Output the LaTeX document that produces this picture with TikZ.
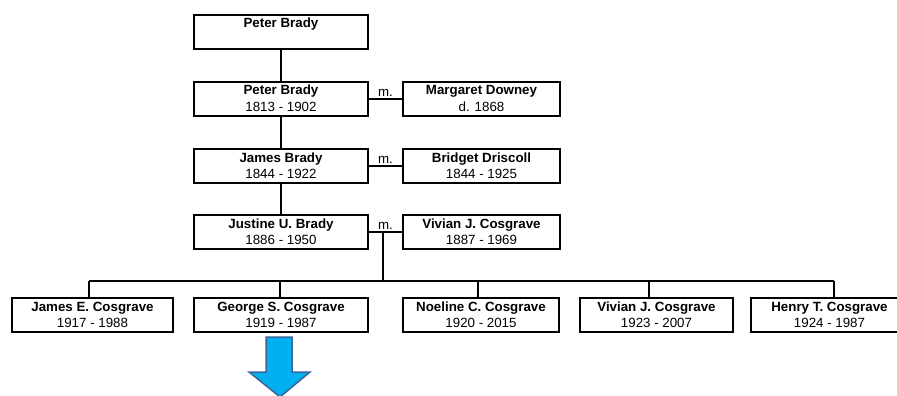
\documentclass[tikz,border=0pt]{standalone}
\usepackage{fontspec}
\setmainfont{Liberation Sans}
\usetikzlibrary{calc}
\definecolor{arrowfill}{HTML}{00B0F0}
\definecolor{arrowline}{HTML}{3A6699}
\newcommand\personbox[6]{%
  \node[box, minimum width=#3-#2, minimum height=34, anchor=north west] (#1) at (#2,#4) {};
  \node[nm] (#1n) at ($(#1.north)+(0,14)$) {#5};
  \node[dt] (#1d) at ($(#1.north)+(0,30)$) {#6};
}
\begin{document}
\begin{tikzpicture}[x=1pt,y=-1pt,
  box/.style={draw=black, line width=2pt, inner sep=0pt, fill=white},
  nm/.style={anchor=base, font=\fontsize{13.33}{16}\selectfont\bfseries, inner sep=0pt},
  dt/.style={anchor=base, font=\fontsize{13.33}{16}\selectfont, inner sep=0pt},
  link/.style={line width=2pt}]
\useasboundingbox (0,0) rectangle (897,396);
\clip (0,0) rectangle (897,396);

% generations
\personbox{PB0}{193}{367}{14}{Peter Brady}{}
\personbox{PB}{193}{367}{81}{Peter Brady}{1813 - 1902}
\personbox{MD}{402}{559}{81}{Margaret Downey}{d. 1868}
\personbox{JB}{193}{367}{148}{James Brady}{1844 - 1922}
\personbox{BD}{402}{559}{148}{Bridget Driscoll}{1844 - 1925}
\personbox{JU}{193}{367}{214}{Justine U. Brady}{1886 - 1950}
\personbox{VC}{402}{559}{214}{Vivian J. Cosgrave}{1887 - 1969}

% children
\personbox{JE}{11}{172}{297}{James E. Cosgrave}{1917 - 1988}
\personbox{GS}{193}{367}{297}{George S. Cosgrave}{1919 - 1987}
\personbox{NC}{402}{558}{297}{Noeline C. Cosgrave}{1920 - 2015}
\personbox{VJ}{579}{732}{297}{Vivian J. Cosgrave}{1923 - 2007}
\personbox{HT}{750}{907}{297}{Henry T. Cosgrave}{1924 - 1987}

% descent lines
\draw[link] (PB0.south) -- (PB.north);
\draw[link] (PB.south) -- (JB.north);
\draw[link] (JB.south) -- (JU.north);

% marriages
\draw[link] (PB.east) -- (MD.west);
\draw[link] (JB.east) -- (BD.west);
\draw[link] (JU.east) -- (VC.west);
\node[dt] (m1) at ($(PB.east)!0.5!(MD.west)+(0,-3)$) {m.};
\node[dt] (m2) at ($(JB.east)!0.5!(BD.west)+(0,-3)$) {m.};
\node[dt] (m3) at ($(JU.east)!0.5!(VC.west)+(0,-3)$) {m.};

% children bus
\coordinate (bus) at (383,281);
\coordinate (mj) at (bus |- JU.east);
\draw[link] (mj) -- (bus);
\coordinate (dJE) at (89,281);
\coordinate (dGS) at (280,281);
\coordinate (dNC) at (478,281);
\coordinate (dVJ) at (649,281);
\coordinate (dHT) at (834,281);
\draw[link] (dJE) -- (dHT);
\draw[link] (dJE) -- (dJE |- JE.north);
\draw[link] (dGS) -- (dGS |- GS.north);
\draw[link] (dNC) -- (dNC |- NC.north);
\draw[link] (dVJ) -- (dVJ |- VJ.north);
\draw[link] (dHT) -- (dHT |- HT.north);

% blue arrow
\draw[fill=arrowfill, draw=arrowline, line width=1.5pt, line join=miter]
  (266,337) -- (292,337) -- (292,372) -- (310,372) -- (280,397) -- (249,372) -- (266,372) -- cycle;
\end{tikzpicture}
\end{document}
